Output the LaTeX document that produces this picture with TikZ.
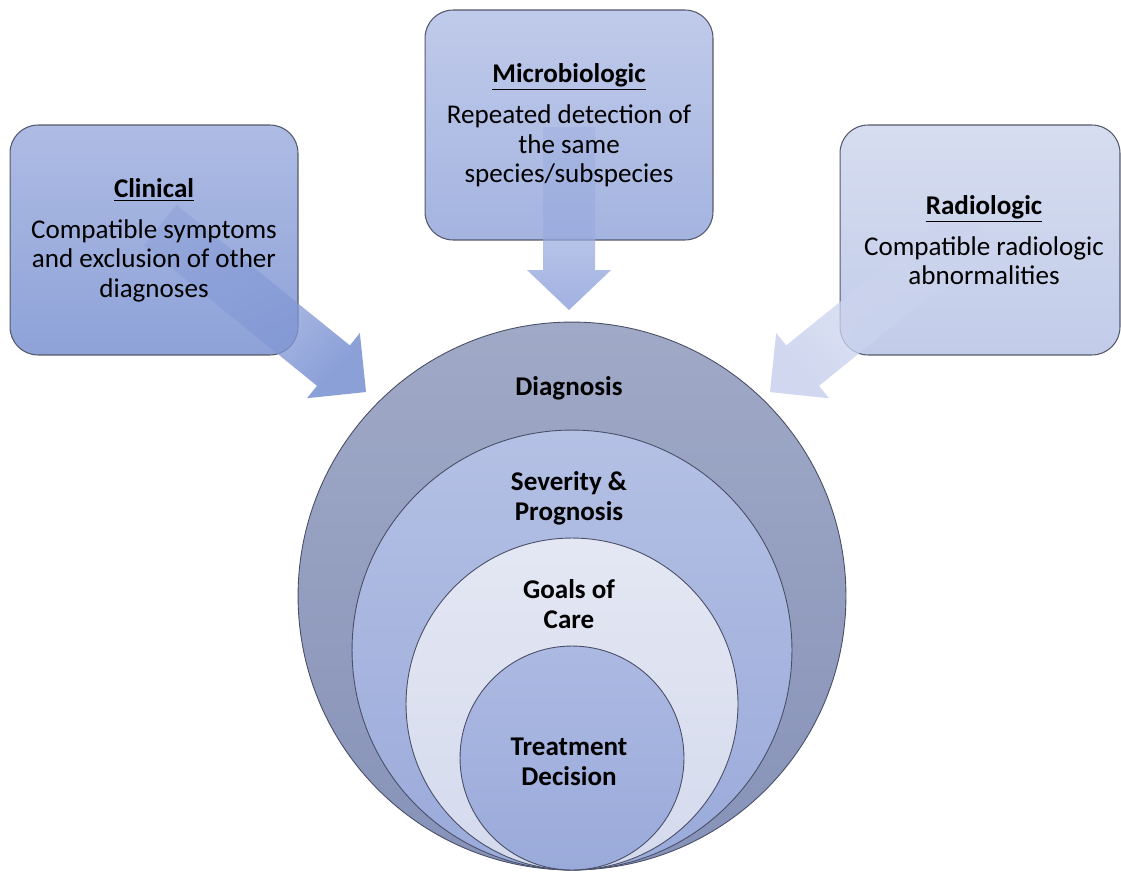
\documentclass[tikz,border=0pt]{standalone}
\usepackage{fontspec}
\setmainfont{Carlito}
\usetikzlibrary{fadings}
% palette
\definecolor{ringline}{RGB}{72,78,102}
\definecolor{cardline}{RGB}{84,88,106}
\definecolor{diagTop}{RGB}{160,169,198}
\definecolor{diagBot}{RGB}{134,146,184}
\definecolor{sevTop}{RGB}{180,192,228}
\definecolor{sevBot}{RGB}{154,170,218}
\definecolor{goalTop}{RGB}{228,231,243}
\definecolor{goalBot}{RGB}{212,218,237}
\definecolor{treatTop}{RGB}{172,185,226}
\definecolor{treatBot}{RGB}{154,170,218}
\definecolor{clinTop}{RGB}{174,188,228}
\definecolor{clinBot}{RGB}{142,162,216}
\definecolor{microTop}{RGB}{192,202,234}
\definecolor{microBot}{RGB}{164,180,224}
\definecolor{radioTop}{RGB}{214,221,240}
\definecolor{radioBot}{RGB}{194,204,233}
\definecolor{clinArr}{RGB}{130,152,213}
\definecolor{microArr}{RGB}{152,170,222}
\definecolor{radioArr}{RGB}{204,212,238}
% arrows fade out toward their tails
\tikzfading[name=tailfade, left color=transparent!65, right color=transparent!8]
\begin{document}
\begin{tikzpicture}[x=0.02cm,y=-0.02cm,
  lbl/.style={align=center, text=black, inner sep=0,
    font=\fontsize{15.4}{17}\selectfont\bfseries},
  boxtxt/.style={align=center, text=black, inner sep=0,
    font=\fontsize{15.4}{16.6}\selectfont},
  ring/.style={circle, draw=ringline, line width=0.5pt, inner sep=0},
  card/.style={rectangle, rounded corners=0.56cm, draw=cardline,
    line width=0.6pt, minimum width=5.76cm, minimum height=4.6cm, inner sep=0},
  blockarrow/.style={draw=none, path fading=tailfade},
]
\useasboundingbox (0,0) rectangle (1121,872);

% nested rings, all touching at the bottom
\node[ring, minimum size=10.96cm, top color=diagTop, bottom color=diagBot] (diag) at (572,596) {};
\node[ring, minimum size=8.8cm, top color=sevTop, bottom color=sevBot] (sev) at (572,650) {};
\node[ring, minimum size=6.64cm, top color=goalTop, bottom color=goalBot] (goal) at (572,704) {};
\node[ring, minimum size=4.48cm, top color=treatTop, bottom color=treatBot] (treat) at (572,758) {};

% criteria cards
\node[card, top color=clinTop, bottom color=clinBot] (clin) at (154,240) {};
\node[card, top color=microTop, bottom color=microBot] (micro) at (569,125) {};
\node[card, minimum width=5.6cm, top color=radioTop, bottom color=radioBot] (radio) at (980,240) {};

% block arrows from the cards toward the rings
\fill[blockarrow, fill=clinArr, fading angle=-39]
  (176.5,205.0) -- (349.8,345.4) -- (359.8,333.0) -- (366,392)
  -- (307.0,398.2) -- (317.0,385.8) -- (143.7,245.4) -- cycle;
\fill[blockarrow, fill=microArr, fading angle=-90]
  (543,127) -- (543,270) -- (527,270) -- (569,310)
  -- (611,270) -- (595,270) -- (595,127) -- cycle;
\fill[blockarrow, fill=radioArr, fading angle=-141]
  (959.5,205.0) -- (786.2,345.4) -- (776.2,333.0) -- (770,392)
  -- (829.0,398.2) -- (819.0,385.8) -- (992.3,245.4) -- cycle;

% card texts
\node[boxtxt] (clintxt) at (154,240)
  {\underline{\textbf{Clinical}}\\[7pt]Compatible symptoms\\and exclusion of other\\diagnoses};
\node[boxtxt] (microtxt) at (569,125)
  {\underline{\textbf{Microbiologic}}\\[7pt]Repeated detection of\\the same\\species/subspecies};
\node[boxtxt] (radiotxt) at (984,240)
  {\underline{\textbf{Radiologic}}\\[7pt]Compatible radiologic\\abnormalities};

% ring labels
\node[lbl] (diagtxt) at (569,388) {Diagnosis};
\node[lbl] (sevtxt) at (569,498) {Severity \&\\Prognosis};
\node[lbl] (goaltxt) at (569,604) {Goals of\\Care};
\node[lbl] (treattxt) at (569,762) {Treatment\\Decision};
\end{tikzpicture}
\end{document}
